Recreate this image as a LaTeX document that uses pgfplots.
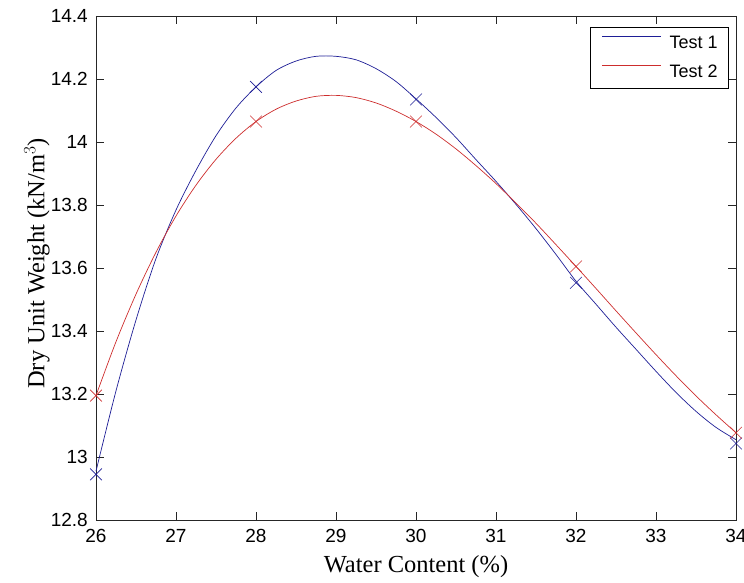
\documentclass[border=0pt]{standalone}
\usepackage{fontspec}
\setmainfont{Liberation Serif}
\newfontfamily\arialfont{Liberation Sans}
\usepackage{pgfplots}
\pgfplotsset{compat=1.18}
\definecolor{mblue}{RGB}{30,30,150}
\definecolor{mred}{RGB}{205,45,45}
\begin{document}
\begin{tikzpicture}
\begin{axis}[
  scale only axis,
  width=640pt, height=504pt,
  xmin=26, xmax=34, ymin=12.8, ymax=14.4,
  xtick={26,27,28,29,30,31,32,33,34},
  ytick={12.8,13.0,13.2,13.4,13.6,13.8,14.0,14.2,14.4},
  clip=false,
  axis line style={black!85, line width=0.8pt},
  major tick length=8pt,
  tick style={black!85, line width=0.8pt},
  tick align=inside,
  /pgf/number format/assume math mode=true,
  tick label style={font=\arialfont\fontsize{19}{22}\selectfont, inner sep=0pt},
  xticklabel style={yshift=-9pt},
  yticklabel style={xshift=-8pt},
  scaled ticks=false,
  xlabel={Water Content (\%)},
  ylabel={Dry Unit Weight (kN/m$^3$)},
  label style={font=\fontsize{24.5}{28}\selectfont, inner sep=0pt},
  xlabel style={at={(axis description cs:0.5,0)}, anchor=north, yshift=-35pt},
  ylabel style={at={(axis description cs:-0.0719,0.509)}, anchor=south},
  legend image code/.code={\draw[#1] (0pt,6.5pt) -- (59pt,6.5pt);},
  legend cell align=left,
  legend style={at={(rel axis cs:1,1)}, anchor=north east, xshift=-7pt, yshift=-11pt,
    draw=black, line width=0.8pt, fill=white,
    font=\arialfont\fontsize{18}{21.6}\selectfont,
    inner xsep=11pt, inner ysep=9pt, row sep=15pt, column sep=8pt,
    nodes={inner sep=0pt}},
]
\addplot[mblue, line width=0.7pt, smooth] coordinates {
(26.00,12.955) (26.25,13.21) (26.50,13.435) (26.75,13.63) (27.00,13.784)
(27.25,13.910) (27.50,14.020) (27.75,14.108) (28.00,14.175) (28.25,14.227)
(28.50,14.257) (28.75,14.272) (29.00,14.272) (29.25,14.261) (29.50,14.233)
(29.75,14.192) (30.00,14.137) (30.25,14.078) (30.50,14.014) (30.75,13.944)
(31.00,13.875) (31.25,13.802) (31.50,13.725) (31.75,13.643) (32.00,13.558)
(32.25,13.485) (32.50,13.412) (32.75,13.342) (33.00,13.272) (33.25,13.205)
(33.50,13.145) (33.75,13.094) (34.00,13.055)};
\addlegendentry{Test 1}
\addplot[mred, line width=0.7pt, smooth] coordinates {
(26.00,13.195) (26.25,13.366) (26.50,13.517) (26.75,13.650) (27.00,13.765)
(27.25,13.863) (27.50,13.945) (27.75,14.012) (28.00,14.065) (28.25,14.104)
(28.50,14.130) (28.75,14.145) (29.00,14.148) (29.25,14.141) (29.50,14.124)
(29.75,14.098) (30.00,14.065) (30.25,14.025) (30.50,13.978) (30.75,13.925)
(31.00,13.868) (31.25,13.806) (31.50,13.742) (31.75,13.674) (32.00,13.605)
(32.25,13.535) (32.50,13.464) (32.75,13.394) (33.00,13.325) (33.25,13.258)
(33.50,13.194) (33.75,13.134) (34.00,13.077)};
\addlegendentry{Test 2}
\addplot[mblue, only marks, mark=x, mark size=8.3pt, mark options={line width=0.6pt}, forget plot] coordinates {
(26,12.945) (28,14.175) (30,14.135) (32,13.553) (34,13.043)};
\addplot[mred, only marks, mark=x, mark size=8.3pt, mark options={line width=0.6pt}, forget plot] coordinates {
(26,13.195) (28,14.065) (30,14.065) (32,13.605) (34,13.077)};
\end{axis}
\pgfresetboundingbox
\path (current axis.south west) ++(-96pt,-62pt) coordinate (bl);
\path (bl) rectangle ++(744pt,582pt);
\end{tikzpicture}
\end{document}
